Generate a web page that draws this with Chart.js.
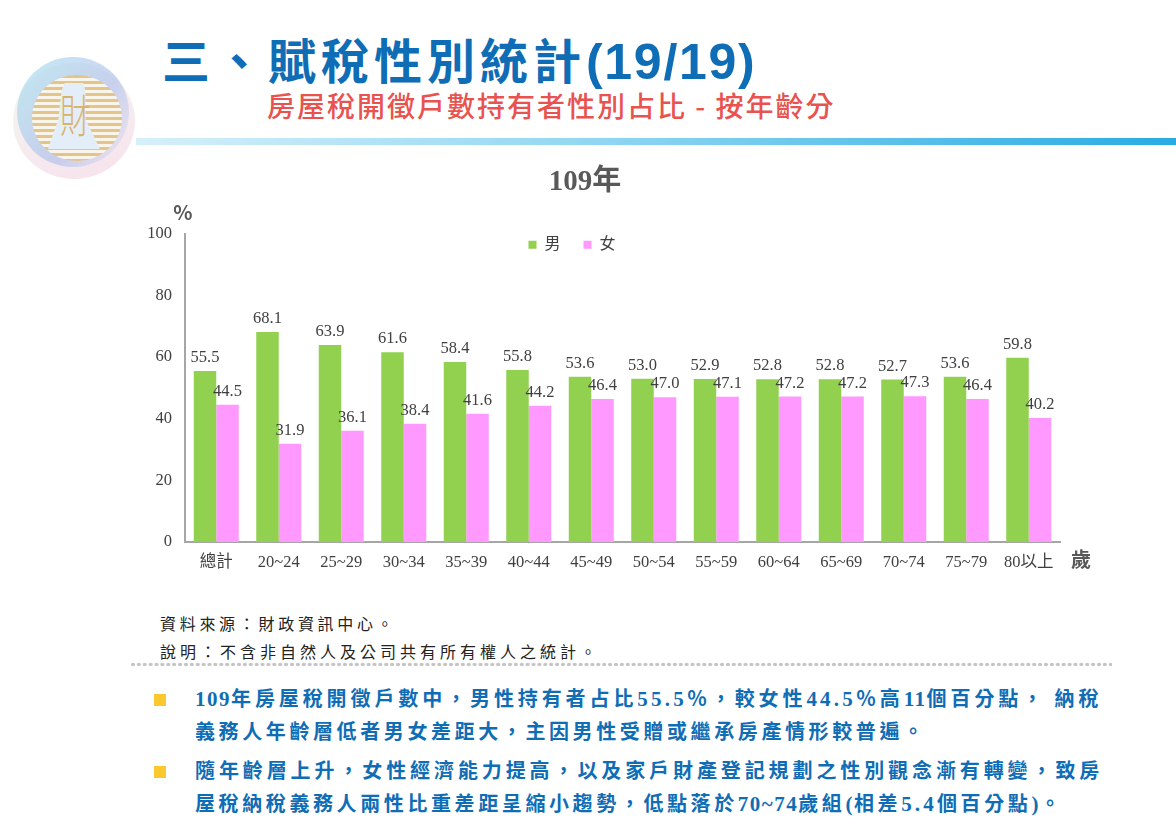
<!DOCTYPE html>
<html lang="zh-Hant">
<head>
<meta charset="utf-8">
<title>賦稅性別統計</title>
<script src="https://cdn.jsdelivr.net/npm/chart.js@4"></script>
<style>
  html, body { margin: 0; padding: 0; background: #fff; }
  #page { position: relative; width: 1176px; height: 826px; overflow: hidden; font-family: "Noto Sans CJK TC", sans-serif; }
  #page > * { position: absolute; }
  .title { left: 162px; top: 23px; color: #0f6db5; font-weight: 700; font-size: 48px; line-height: 70px; letter-spacing: 5px; white-space: pre; }
  .title span { font-family: "Liberation Sans", sans-serif; font-size: 50px; letter-spacing: 1.7px; }
  .subtitle { left: 267px; top: 86px; color: #e8524f; font-weight: 500; font-size: 28px; line-height: 38px; letter-spacing: 2px; white-space: pre; }
  .rule { left: 136px; top: 138px; width: 1040px; height: 7px; background: linear-gradient(to right, #d5f0fa, #8fd6f2 45%, #29abe2); }
  .note { left: 160px; color: #222; font-size: 16px; line-height: 24px; white-space: pre; }
  .dots { left: 130px; top: 662px; width: 982px; height: 5px; background: radial-gradient(circle, #c4c4c4 1.6px, transparent 2.1px) 0 0 / 5.9px 5px repeat-x; }
  .bullet { left: 154px; width: 12px; height: 12px; background: #fdc82f; }
  .body { left: 195px; color: #0f6db5; font-weight: 700; font-size: 20px; line-height: 30px; white-space: pre; }
  .body i { font-style: normal; font-family: "Liberation Serif", serif; font-size: 21px; letter-spacing: 1.5px; }
  .body i.d { letter-spacing: 3.2px; }
  .logo { left: 10px; top: 52px; width: 130px; height: 130px; }
  .logo div { position: absolute; border-radius: 50%; }
  .ring1 { left: 3px; top: 11px; width: 122px; height: 116px; background: linear-gradient(160deg, rgba(225,240,215,.4), rgba(240,195,220,.5)); }
  .ring2 { left: 7px; top: 5px; width: 112px; height: 110px; background: linear-gradient(125deg, rgba(170,225,240,.7), rgba(175,190,235,.65) 60%, rgba(230,225,240,.3)); }
  .disc { left: 22px; top: 23px; width: 90px; height: 86px; background: repeating-linear-gradient(#e3c48a 0 3px, #f9f5ea 3px 6px); }
  .logo .bell { left: 38px; top: 31px; width: 52px; height: 66px; border-radius: 0; background: #e4eef8; clip-path: polygon(32% 0, 68% 0, 72% 12%, 72% 55%, 100% 100%, 0 100%, 20% 55%, 26% 12%); }
  .logo .glyph { left: 50px; top: 36px; width: 30px; height: 50px; border-radius: 0; color: #d8b36c; font-size: 30px; line-height: 50px; text-align: center; font-weight: 300; transform: scaleY(1.5); }
  #chartBox { left: 60px; top: 150px; width: 1050px; height: 440px; }
</style>
</head>
<body>
<div id="page">
  <div class="logo">
    <div class="ring1"></div>
    <div class="ring2"></div>
    <div class="disc"></div>
    <div class="bell"></div>
    <div class="glyph">財</div>
  </div>
  <div class="title">三、賦稅性別統計<span>(19/19)</span></div>
  <div class="subtitle">房屋稅開徵戶數持有者性別占比 - 按年齡分</div>
  <div class="rule"></div>

  <div id="chartBox"><canvas id="chart" width="1050" height="440"></canvas></div>

  <div class="note" style="top:611px;letter-spacing:3.7px">資料來源：財政資訊中心。</div>
  <div class="note" style="top:639px;letter-spacing:4px">說明：不含非自然人及公司共有所有權人之統計。</div>
  <div class="dots"></div>

  <div class="bullet" style="top:694px"></div>
  <div class="body" style="top:683px;letter-spacing:3.9px"><i>109</i>年房屋稅開徵戶數中，男性持有者占比<i class="d">55.5</i>％，較女性<i class="d">44.5</i>％高<i>11</i>個百分點， 納稅</div>
  <div class="body" style="top:716px;letter-spacing:3.6px">義務人年齡層低者男女差距大，主因男性受贈或繼承房產情形較普遍。</div>
  <div class="bullet" style="top:766px"></div>
  <div class="body" style="top:755px;letter-spacing:3.9px">隨年齡層上升，女性經濟能力提高，以及家戶財產登記規劃之性別觀念漸有轉變，致房</div>
  <div class="body" style="top:788px;letter-spacing:3.6px">屋稅納稅義務人兩性比重差距呈縮小趨勢，低點落於<i>70~74</i>歲組<i>(</i>相差<i class="d">5.4</i>個百分點<i>)</i>。</div>
</div>

<script>
const categories = ['總計', '20~24', '25~29', '30~34', '35~39', '40~44', '45~49', '50~54', '55~59', '60~64', '65~69', '70~74', '75~79', '80以上'];
const maleShare = [55.5, 68.1, 63.9, 61.6, 58.4, 55.8, 53.6, 53.0, 52.9, 52.8, 52.8, 52.7, 53.6, 59.8];
const femaleShare = [44.5, 31.9, 36.1, 38.4, 41.6, 44.2, 46.4, 47.0, 47.1, 47.2, 47.2, 47.3, 46.4, 40.2];
const seriesNames = ['男', '女'];
const chartTitle = '109年';

const serifFont = '"Liberation Serif", "Noto Sans CJK TC", serif';
const textColor = '#404040';

// legend takes no layout room and is drawn inside the plot
const moveLegend = {
  id: 'moveLegend',
  afterInit(chart) {
    const fitValue = chart.legend.fit;
    chart.legend.fit = function fit() {
      fitValue.bind(chart.legend)();
      this.height = 0;
    };
  },
  afterLayout(chart) {
    chart.legend.left -= 13;
    chart.legend.right -= 13;
    chart.legend.top = chart.chartArea.top - 20;
    // legend draw clips to its own box
    chart.legend.height = 60;
    chart.legend.bottom = chart.legend.top + 60;
  }
};

// value labels above the bars and the two axis units
const barLabels = {
  id: 'barLabels',
  afterDatasetsDraw(chart) {
    const ctx = chart.ctx;
    ctx.save();
    ctx.fillStyle = textColor;
    ctx.font = '16.5px ' + serifFont;
    ctx.textAlign = 'center';
    ctx.textBaseline = 'alphabetic';
    chart.data.datasets.forEach((dataset, i) => {
      chart.getDatasetMeta(i).data.forEach((bar, index) => {
        ctx.fillText(dataset.data[index].toFixed(1), bar.x, bar.y - 9);
      });
    });

    const area = chart.chartArea;
    ctx.fillStyle = '#595959';
    ctx.font = 'bold 20px "Noto Sans CJK TC", sans-serif';
    ctx.textBaseline = 'middle';
    ctx.fillText('%', area.left - 2, area.top - 21);
    ctx.fillText('歲', area.right + 21, area.bottom + 17);
    ctx.restore();
  }
};

new Chart(document.getElementById('chart'), {
  type: 'bar',
  data: {
    labels: categories,
    datasets: [
      { label: seriesNames[0], data: maleShare, backgroundColor: '#92d050' },
      { label: seriesNames[1], data: femaleShare, backgroundColor: '#ff99ff' }
    ]
  },
  options: {
    responsive: false,
    animation: false,
    categoryPercentage: 0.72,
    barPercentage: 1,
    layout: {
      padding: { left: 50, right: 50, top: 0, bottom: 18 }
    },
    plugins: {
      tooltip: { enabled: false },
      title: {
        display: true,
        text: chartTitle,
        color: '#595959',
        font: { family: serifFont, size: 29, weight: 'bold', lineHeight: 1.2 },
        padding: { top: 15, bottom: 34 }
      },
      legend: {
        position: 'top',
        labels: {
          boxWidth: 8,
          boxHeight: 8,
          padding: 23,
          color: textColor,
          font: { family: serifFont, size: 16 }
        }
      }
    },
    scales: {
      x: {
        grid: { display: false, drawTicks: false },
        border: { color: '#a6a6a6', width: 2 },
        ticks: { color: textColor, padding: 11, maxRotation: 0, autoSkip: false, font: { family: serifFont, size: 16.5 } },
        afterFit(scale) { scale.height = 30; }
      },
      y: {
        min: 0,
        max: 100,
        grid: { display: false, drawTicks: false },
        border: { color: '#a6a6a6', width: 2 },
        ticks: { stepSize: 20, color: textColor, padding: 13, font: { family: serifFont, size: 16.5 } },
        afterFit(scale) { scale.width = 75; }
      }
    }
  },
  plugins: [moveLegend, barLabels]
});
</script>
</body>
</html>
